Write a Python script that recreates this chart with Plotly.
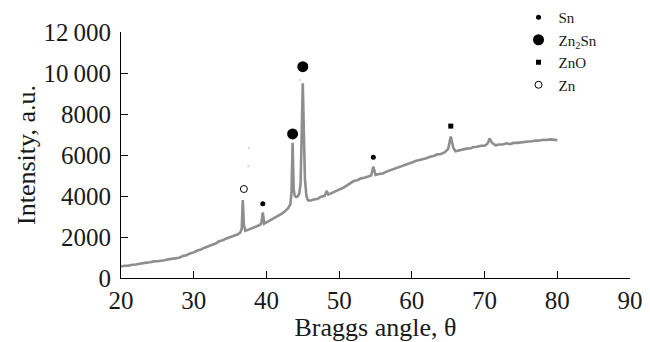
import plotly.graph_objects as go

# XRD pattern
angle = [20.0, 20.5, 21.0, 21.5, 22.0, 22.5, 23.0, 23.5, 24.0, 24.5, 25.0, 25.5, 26.0, 26.5,
         27.0, 27.5, 28.0, 28.5, 29.0, 29.5, 30.0, 30.5, 31.0, 31.5, 32.0, 32.5, 33.0, 33.5,
         34.0, 34.5, 35.0, 35.5, 36.0, 36.4, 36.6, 36.75, 36.9, 37.1, 37.5, 38.0, 38.5, 39.0,
         39.3, 39.5, 39.7, 40.0, 40.5, 41.0, 41.5, 42.0, 42.5, 43.0, 43.3, 43.45, 43.6, 43.75,
         43.9, 44.1, 44.3, 44.5, 44.7, 44.85, 45.0, 45.15, 45.3, 45.5, 45.7, 46.0, 46.5, 47.0,
         47.5, 48.0, 48.3, 48.5, 49.0, 49.5, 50.0, 50.5, 51.0, 51.5, 52.0, 52.5, 53.0, 53.5,
         54.0, 54.4, 54.7, 55.0, 55.5, 56.0, 56.5, 57.0, 57.5, 58.0, 58.5, 59.0, 59.5, 60.0,
         60.5, 61.0, 61.5, 62.0, 62.5, 63.0, 63.5, 64.0, 64.5, 65.0, 65.35, 65.7, 66.0, 66.5,
         67.0, 67.5, 68.0, 68.5, 69.0, 69.5, 70.0, 70.4, 70.7, 71.0, 71.5, 72.0, 72.5, 73.0,
         73.5, 74.0, 74.5, 75.0, 75.5, 76.0, 76.5, 77.0, 77.5, 78.0, 78.5, 79.0, 79.5, 80.0]
intensity = [560, 600, 600, 650, 660, 700, 715, 750, 765, 810, 815, 860, 870, 910,
             930, 975, 990, 1070, 1110, 1200, 1250, 1340, 1390, 1480, 1540, 1620, 1680, 1790,
             1840, 1930, 1990, 2070, 2120, 2210, 2400, 3800, 2600, 2300, 2350, 2410, 2510, 2570,
             2660, 3200, 2650, 2710, 2780, 2890, 2980, 3110, 3240, 3410, 3600, 4200, 6600, 4300,
             4000, 3950, 3990, 4100, 4600, 7500, 9500, 7000, 4800, 4000, 3800, 3770, 3830, 3850,
             3960, 4010, 4250, 4070, 4160, 4210, 4310, 4390, 4510, 4610, 4730, 4770, 4860, 4890,
             4970, 5000, 5430, 5030, 5070, 5100, 5190, 5250, 5330, 5370, 5450, 5490, 5570, 5630,
             5710, 5750, 5810, 5840, 5910, 5950, 6030, 6050, 6130, 6300, 6900, 6350, 6180, 6230,
             6250, 6310, 6320, 6390, 6400, 6450, 6450, 6550, 6800, 6600, 6470, 6510, 6510, 6570,
             6530, 6590, 6590, 6620, 6630, 6660, 6670, 6710, 6700, 6740, 6730, 6760, 6750, 6720]

# Phase markers above the peaks
sn_x, sn_y = [39.5, 54.7], [3620, 5890]
zn2sn_x, zn2sn_y = [43.6, 45.0], [7030, 10310]
zno_x, zno_y = [65.35], [7410]
zn_x, zn_y = [36.9], [4340]

# Faint specks in the scan
speck_x, speck_y = [37.5, 37.6, 44.6], [5460, 6340, 9660]

x_ticks = [20, 30, 40, 50, 60, 70, 80, 90]
y_ticks = [0, 2000, 4000, 6000, 8000, 10000, 12000]
y_tick_text = ["0", "2000", "4000", "6000", "8000", "10\u2009000", "12\u2009000"]

font = "Liberation Serif"
tick_font = dict(family=font, size=25, color="#1a1a1a")
title_font = dict(family=font, size=26, color="#1a1a1a")

fig = go.Figure()
fig.add_trace(go.Scatter(x=angle, y=intensity, mode="lines",
                         line=dict(color="#8e8e8e", width=2.6), showlegend=False,
                         hoverinfo="skip"))
fig.add_trace(go.Scatter(x=speck_x, y=speck_y, mode="markers",
                         marker=dict(color="#cccccc", size=2), showlegend=False))
fig.add_trace(go.Scatter(x=sn_x, y=sn_y, mode="markers", name="Sn",
                         marker=dict(color="black", size=5, symbol="circle")))
fig.add_trace(go.Scatter(x=zn2sn_x, y=zn2sn_y, mode="markers", name="Zn<sub>2</sub>Sn",
                         marker=dict(color="black", size=11, symbol="circle")))
fig.add_trace(go.Scatter(x=zno_x, y=zno_y, mode="markers", name="ZnO",
                         marker=dict(color="black", size=5, symbol="square")))
fig.add_trace(go.Scatter(x=zn_x, y=zn_y, mode="markers", name="Zn",
                         marker=dict(color="white", size=7, symbol="circle",
                                     line=dict(color="black", width=1))))

fig.update_layout(
    width=642, height=334,
    margin=dict(l=113, r=20, t=24, b=64, autoexpand=False),
    paper_bgcolor="white", plot_bgcolor="white",
    font=dict(family=font, size=25, color="#1a1a1a"),
    legend=dict(x=0.781, y=1.126, xanchor="left", yanchor="top",
                font=dict(family=font, size=15, color="#1a1a1a"),
                bgcolor="rgba(0,0,0,0)", tracegroupgap=0, itemwidth=30),
    xaxis=dict(range=[20, 90], tickvals=x_ticks, ticks="inside", ticklen=7,
               showline=True, linecolor="black", linewidth=1, showgrid=False,
               zeroline=False, tickcolor="black", tickfont=tick_font, automargin=False,
               title=dict(text="Braggs angle, \u03b8", standoff=0, font=title_font)),
    yaxis=dict(range=[0, 12000], tickvals=y_ticks, ticktext=y_tick_text,
               ticks="inside", ticklen=7, showline=True, linecolor="black",
               linewidth=1, showgrid=False, zeroline=False, tickcolor="black",
               ticklabelstandoff=4, tickfont=tick_font, automargin=False,
               title=dict(text="Intensity, a.u.", standoff=0, font=title_font)),
)

fig.write_html("out.html")
